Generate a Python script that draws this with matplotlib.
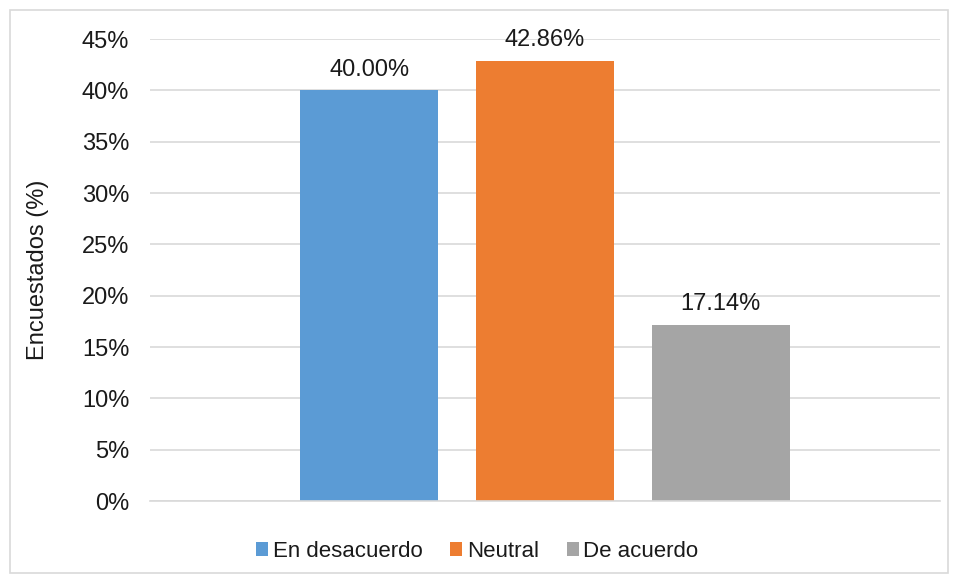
import matplotlib.pyplot as plt
from matplotlib.patches import Rectangle

# data
categories = ['En desacuerdo', 'Neutral', 'De acuerdo']
values = [40.00, 42.86, 17.14]
colors = ['#5B9BD5', '#ED7D31', '#A5A5A5']
yticks = [0, 5, 10, 15, 20, 25, 30, 35, 40, 45]

plt.rcParams['font.family'] = ['Liberation Sans', 'DejaVu Sans']

fig = plt.figure(figsize=(9.58, 5.83), dpi=100)
ax = fig.add_axes([150 / 958, 1 - 501 / 583, 790 / 958, 462 / 583])

# bars, one series per category
for i, (cat, val, col) in enumerate(zip(categories, values, colors)):
    ax.bar(i, val, width=0.786, color=col, label=cat, zorder=2)
    ax.annotate(f'{val:.2f}%', (i, val), xytext=(0, 7), textcoords='offset points',
                ha='center', va='bottom', fontsize=17, color='#1a1a1a')

ax.set_xlim(-1.248, 3.248)
ax.set_ylim(0, 45)
ax.set_yticks(yticks)
ax.set_yticklabels([f'{t}%' for t in yticks])
ax.set_xticks([])
ax.tick_params(axis='y', length=0, pad=15, labelsize=17, labelcolor='#1a1a1a')
ax.grid(axis='y', color='#D9D9D9', linewidth=1.2, zorder=0)
for s in ['top', 'right', 'left']:
    ax.spines[s].set_visible(False)
ax.spines['bottom'].set_color('#D9D9D9')
ax.spines['bottom'].set_linewidth(1.2)
ax.set_ylabel('Encuestados (%)', fontsize=17, color='#1a1a1a')
ax.yaxis.set_label_coords(-0.128, 0.5)

fig.legend(loc='center', bbox_to_anchor=(0.498, 0.054), ncol=3, frameon=False,
           fontsize=16, handlelength=0.55, handleheight=0.55, handletextpad=0.2,
           columnspacing=1.25, labelcolor='#1a1a1a')

# outer chart border
fig.patches.append(Rectangle((10 / 958, 10 / 583), 1 - 20 / 958, 1 - 20 / 583,
                             transform=fig.transFigure, fill=False,
                             edgecolor='#D9D9D9', linewidth=1.2))

fig.savefig('out.png', dpi=100)
